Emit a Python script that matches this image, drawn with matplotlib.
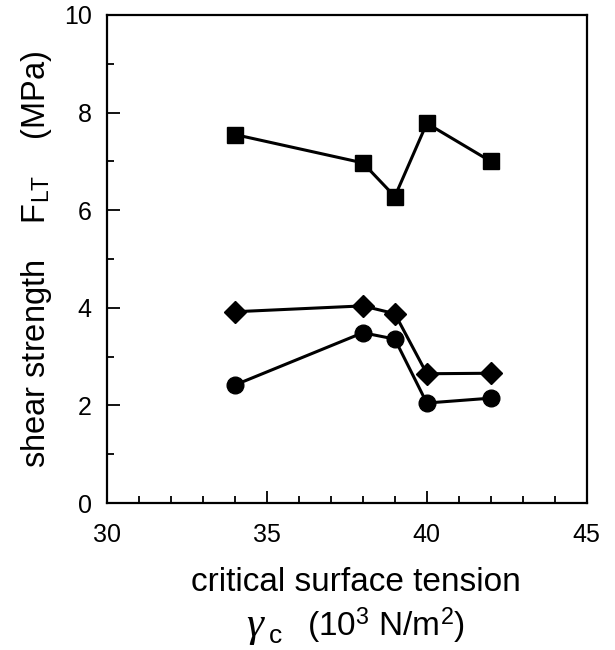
import matplotlib
matplotlib.use("Agg")
import matplotlib.pyplot as plt
from matplotlib.ticker import MultipleLocator

plt.rcParams['font.family'] = ['Liberation Sans', 'DejaVu Sans']
plt.rcParams['mathtext.fontset'] = 'custom'
plt.rcParams['mathtext.rm'] = 'Liberation Sans'
plt.rcParams['mathtext.it'] = 'Liberation Serif:italic'

gamma_c = [34, 38, 39, 40, 42]
square_vals = [7.55, 6.97, 6.28, 7.78, 7.0]
diamond_vals = [3.92, 4.04, 3.88, 2.65, 2.66]
circle_vals = [2.42, 3.49, 3.36, 2.05, 2.15]

fig = plt.figure(figsize=(6.15, 6.5), dpi=100)
ax = fig.add_axes([0.174, 0.226, 0.780, 0.751])

ax.plot(gamma_c, square_vals, '-s', color='black', lw=2.2, ms=11.5)
ax.plot(gamma_c, diamond_vals, '-D', color='black', lw=2.2, ms=11)
ax.plot(gamma_c, circle_vals, '-o', color='black', lw=2.2, ms=12)

ax.set_xlim(30, 45)
ax.set_ylim(0, 10)
ax.xaxis.set_major_locator(MultipleLocator(5))
ax.xaxis.set_minor_locator(MultipleLocator(1))
ax.yaxis.set_major_locator(MultipleLocator(2))
ax.yaxis.set_minor_locator(MultipleLocator(1))
ax.tick_params(which='both', direction='in', top=False, right=False, width=1.3)
ax.tick_params(axis='x', which='major', length=9, labelsize=18, pad=14)
ax.tick_params(axis='y', which='major', length=9, labelsize=18, pad=11)
ax.tick_params(which='minor', length=5)
for s in ax.spines.values():
    s.set_linewidth(1.6)

ax.set_ylabel('shear strength    F$_{\\mathrm{LT}}$    (MPa)', fontsize=23.5, labelpad=7)
fig.text(0.579, 0.091, 'critical surface tension', ha='center', va='baseline', fontsize=24)
fig.text(0.400, 0.022, '\u03b3', ha='left', va='baseline', fontsize=31,
         family='Liberation Serif', style='italic')
fig.text(0.437, 0.011, 'c', ha='left', va='baseline', fontsize=19)
fig.text(0.499, 0.022, '(10$^{3}$ N/m$^{2}$)', ha='left', va='baseline', fontsize=24)

fig.savefig('out.png', dpi=100)
